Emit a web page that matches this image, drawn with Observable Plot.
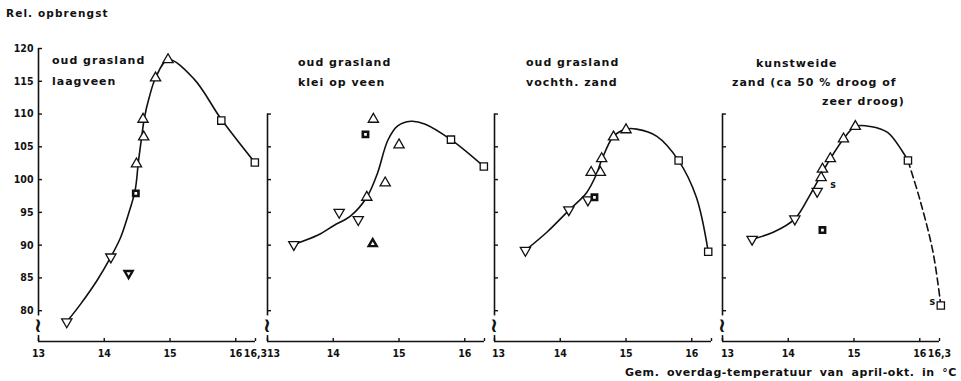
<!DOCTYPE html>
<html>
<head>
<meta charset="utf-8">
<script src="https://cdn.jsdelivr.net/npm/d3@7"></script>
<script src="https://cdn.jsdelivr.net/npm/@observablehq/plot@0.6"></script>
<style>
  body { margin: 0; background: #fff; }
  #wrap { position: relative; width: 961px; height: 381px; overflow: hidden;
          font-family: "DejaVu Sans", sans-serif; font-weight: bold; color: #111; }
  .lbl { position: absolute; font-size: 11px; line-height: 13px; letter-spacing: 1px; white-space: nowrap; }
  .panel { position: absolute; top: 0; }
</style>
</head>
<body>
<div id="wrap"></div>
<script>
// ---------------- data ----------------
const yTitle = "Rel. opbrengst";
const xTitle = "Gem. overdag-temperatuur van april-okt. in °C";

const xTicks = [13, 14, 15, 16, 16.3];
const xTickLabels1 = ["13", "14", "15", "16", "16,3"];
const xTickLabels2 = ["13", "14", "15", "16", ""];
const xTickLabels3 = ["13", "14", "15", "16", ""];
const xTickLabels4 = ["13", "14", "15", "16", "16,3"];
const yTicks1 = [80, 85, 90, 95, 100, 105, 110, 115, 120];
const yTicksRest = [80, 85, 90, 95, 100, 105, 110];

const titles1 = ["oud grasland", "laagveen"];
const titles2 = ["oud grasland", "klei op veen"];
const titles3 = ["oud grasland", "vochth. zand"];
const titles4 = ["kunstweide", "zand (ca 50 % droog of", "zeer droog)"];

// [temperature, relative yield, marker]
const points1 = [
  [13.43, 78.3, "down"], [14.10, 88.2, "down"], [14.37, 85.7, "downBold"],
  [14.48, 97.9, "squareBold"], [14.49, 102.4, "up"], [14.60, 106.5, "up"],
  [14.59, 109.2, "up"], [14.78, 115.5, "up"], [14.97, 118.3, "up"],
  [15.78, 109.0, "square"], [16.29, 102.6, "square"]
];
const points2 = [
  [13.40, 90.1, "down"], [14.09, 95.0, "down"], [14.38, 93.9, "down"],
  [14.51, 97.3, "up"], [14.60, 90.2, "upBold"], [14.49, 106.9, "squareBold"],
  [14.61, 109.2, "up"], [14.79, 99.5, "up"], [15.00, 105.3, "up"],
  [15.79, 106.1, "square"], [16.29, 102.0, "square"]
];
const points3 = [
  [13.47, 89.2, "down"], [14.13, 95.4, "down"], [14.42, 96.9, "down"],
  [14.52, 97.3, "squareBold"], [14.47, 101.1, "up"], [14.61, 101.1, "up"],
  [14.63, 103.2, "up"], [14.81, 106.5, "up"], [15.00, 107.6, "up"],
  [15.80, 102.9, "square"], [16.25, 89.0, "square"]
];
const points4 = [
  [13.45, 90.9, "down"], [14.10, 94.0, "down"], [14.44, 98.2, "down"],
  [14.52, 101.6, "up"], [14.50, 100.3, "up"], [14.52, 92.3, "squareBold"],
  [14.64, 103.2, "up"], [14.84, 106.2, "up"], [15.02, 108.1, "up"],
  [15.82, 102.9, "square"], [16.32, 80.8, "square"]
];
const notes4 = [[14.68, 99.2, "s"], [16.19, 81.4, "s"]];

// fitted curves
const curve1 = [
  [13.43, 78.3], [13.64, 81.0], [13.89, 84.6], [14.10, 88.2], [14.25, 91.2],
  [14.37, 94.8], [14.47, 98.4], [14.52, 102.8], [14.57, 106.6], [14.61, 109.4],
  [14.68, 112.4], [14.78, 115.5], [14.97, 118.3], [15.36, 115.4], [15.78, 109.2],
  [16.29, 102.6]
];
const curve2 = [
  [13.40, 90.1], [13.76, 91.5], [14.01, 93.0], [14.27, 94.5], [14.51, 97.3],
  [14.67, 100.9], [14.83, 106.0], [14.98, 108.2], [15.18, 108.9], [15.39, 108.5],
  [15.79, 106.1], [16.29, 102.0]
];
const curve3 = [
  [13.47, 89.2], [13.80, 92.0], [14.13, 95.3], [14.40, 98.0], [14.55, 100.8],
  [14.63, 103.0], [14.81, 106.6], [15.00, 107.7], [15.16, 107.7], [15.47, 106.6],
  [15.80, 102.9], [16.07, 97.3], [16.25, 89.0]
];
const curve4 = [
  [13.45, 90.9], [13.78, 92.0], [14.10, 94.0], [14.31, 97.3], [14.52, 101.1],
  [14.64, 103.2], [14.84, 106.2], [15.02, 108.1], [15.25, 108.1], [15.51, 107.2],
  [15.73, 104.4], [15.82, 102.9]
];
const curve4dashed = [[15.82, 102.9], [16.00, 97.0], [16.20, 89.0], [16.32, 80.8]];

// ---------------- layout / style ----------------
const xDomain = [13, 16.3];
const yDomain = [75.3, 120];
const ink = "#111";
const markerStyle = {
  up:         {symbol: "triangle", r: 3.8, rotate: 0,   strokeWidth: 1.3},
  down:       {symbol: "triangle", r: 3.8, rotate: 180, strokeWidth: 1.3},
  square:     {symbol: "square",   r: 4.1, rotate: 0,   strokeWidth: 1.3},
  squareBold: {symbol: "square",   r: 3.0, rotate: 0,   strokeWidth: 2.6},
  upBold:     {symbol: "triangle", r: 3.0, rotate: 0,   strokeWidth: 2.4},
  downBold:   {symbol: "triangle", r: 3.0, rotate: 180, strokeWidth: 2.4}
};
const panels = [
  {origin: 38,  ml: 38, points: points1, curve: curve1, dashed: null, notes: [], yTicks: yTicks1, yLabels: true,
   xLabels: xTickLabels1, firstShift: 0, titles: titles1, titlePos: [[52, 54], [52, 75]]},
  {origin: 267, ml: 12, points: points2, curve: curve2, dashed: null, notes: [], yTicks: yTicksRest, yLabels: false,
   xLabels: xTickLabels2, firstShift: 6, titles: titles2, titlePos: [[298, 56], [298, 76]]},
  {origin: 494, ml: 12, points: points3, curve: curve3, dashed: null, notes: [], yTicks: yTicksRest, yLabels: false,
   xLabels: xTickLabels3, firstShift: 4, titles: titles3, titlePos: [[526, 56], [526, 76]]},
  {origin: 722, ml: 12, points: points4, curve: curve4, dashed: curve4dashed, notes: notes4, yTicks: yTicksRest, yLabels: false,
   xLabels: xTickLabels4, firstShift: 5, titles: titles4, titlePos: [[756, 57], [732, 76], [822, 95]]}
];

const wrap = document.getElementById("wrap");
function addLabel(text, css) {
  const d = document.createElement("div");
  d.className = "lbl";
  d.textContent = text;
  Object.assign(d.style, css);
  wrap.appendChild(d);
}

const tickFont = {fontFamily: "'DejaVu Sans Condensed', 'DejaVu Sans', sans-serif", fontStretch: "condensed",
                  fontWeight: "bold", fontSize: "10.5px"};

panels.forEach((p) => {
  const mr = 14;
  const plotW = 217;
  const marks = [];
  // axes lines with a break mark
  marks.push(Plot.ruleX([13], {y1: 79.2, y2: p.yTicks[p.yTicks.length - 1], stroke: ink, strokeWidth: 1.6}));
  marks.push(Plot.ruleX([13], {y1: yDomain[0], y2: 76.2, stroke: ink, strokeWidth: 1.6}));
  marks.push(Plot.text(["~"], {x: 13, y: 77.7, fontSize: 22, rotate: 90, fontWeight: "bold",
    fontFamily: "DejaVu Sans", fill: ink}));
  marks.push(Plot.ruleY([yDomain[0]], {x1: xDomain[0], x2: xDomain[1], stroke: ink, strokeWidth: 1.6}));
  // y axis ticks
  marks.push(Plot.axisY({ticks: p.yTicks, tickSize: -4, tickPadding: 9, strokeWidth: 1.4,
    tickFormat: p.yLabels ? (d) => String(d) : () => "", label: null, fill: ink, stroke: ink}));
  // x axis ticks
  marks.push(Plot.axisX({ticks: xTicks, tickSize: -3, tickPadding: 0, strokeWidth: 1.4, tickFormat: () => "", label: null, stroke: ink}));
  const labelled = xTicks.filter((d, i) => p.xLabels[i] !== "" && !(i === 0 && p.firstShift));
  marks.push(Plot.axisX({ticks: labelled, tickSize: 0, tickPadding: 8, label: null, fill: ink,
    tickFormat: (d) => p.xLabels[xTicks.indexOf(d)]}));
  if (p.firstShift) {
    marks.push(Plot.axisX({ticks: [xTicks[0]], tickSize: 0, tickPadding: 8, dx: p.firstShift, label: null, fill: ink,
      tickFormat: () => p.xLabels[0]}));
  }
  // curves
  marks.push(Plot.line(p.curve, {x: (d) => d[0], y: (d) => d[1], curve: "catmull-rom", stroke: ink, strokeWidth: 1.6}));
  if (p.dashed) {
    marks.push(Plot.line(p.dashed, {x: (d) => d[0], y: (d) => d[1], curve: "catmull-rom", stroke: ink,
      strokeWidth: 1.6, strokeDasharray: "7,4"}));
  }
  // markers
  Object.entries(markerStyle).forEach(([type, s]) => {
    const data = p.points.filter((d) => d[2] === type);
    if (!data.length) return;
    marks.push(Plot.dot(data, {x: (d) => d[0], y: (d) => d[1], symbol: s.symbol, r: s.r, rotate: s.rotate,
      fill: "white", stroke: ink, strokeWidth: s.strokeWidth}));
  });
  if (p.notes.length) {
    marks.push(Plot.text(p.notes, {x: (d) => d[0], y: (d) => d[1], text: (d) => d[2], fontSize: 10.5,
      fontWeight: "bold", fill: ink}));
  }
  const chart = Plot.plot({
    width: p.ml + plotW + mr,
    height: 362,
    marginLeft: p.ml,
    marginRight: mr,
    marginTop: 48,
    marginBottom: 21,
    x: {domain: xDomain, label: null},
    y: {domain: yDomain, label: null},
    style: Object.assign({background: "transparent", color: ink, overflow: "visible"}, tickFont),
    marks
  });
  chart.classList.add("panel");
  chart.style.left = (p.origin - p.ml) + "px";
  wrap.appendChild(chart);
  p.titles.forEach((t, i) => addLabel(t, {left: p.titlePos[i][0] + "px", top: p.titlePos[i][1] + "px"}));
});

addLabel(yTitle, {left: "6px", top: "7px", fontSize: "10.5px", letterSpacing: "1.1px"});
addLabel(xTitle, {right: "4px", top: "366px", letterSpacing: "0.6px", wordSpacing: "3px"});
</script>
</body>
</html>
